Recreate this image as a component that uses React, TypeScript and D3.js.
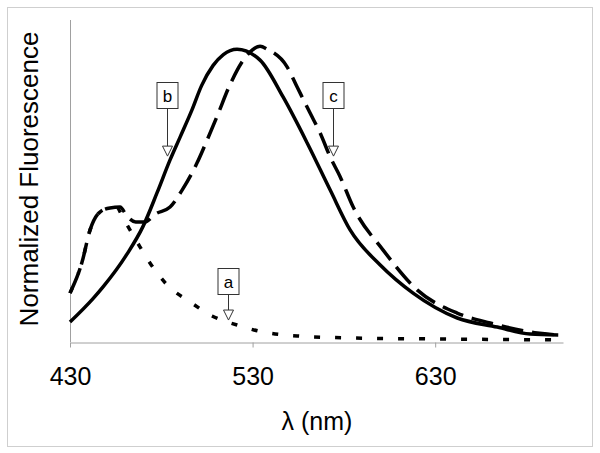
import { useEffect, useRef } from "react";
import * as d3 from "d3";

// wavelength (nm) / normalized intensity
const solidWl = [430, 442.6, 448.1, 461.2, 470, 477.7, 484.8, 490.3, 496.8, 502, 508.4, 514, 521.5, 534.1, 546.7, 559.9, 572.5, 583.4, 599.9, 617.9, 642.1, 664, 682, 697.4];
const solidVal = [0.068, 0.148, 0.188, 0.3, 0.395, 0.51, 0.622, 0.7, 0.793, 0.875, 0.945, 0.982, 1.0, 0.963, 0.837, 0.68, 0.519, 0.383, 0.263, 0.167, 0.082, 0.051, 0.027, 0.024];

const dashWl = [430, 436.6, 441, 446.4, 451.9, 457.4, 461.2, 466, 471, 477, 484.8, 491.4, 499.6, 505.1, 510.5, 517.7, 527, 534.1, 538, 548.9, 554.4, 561.5, 567, 572.5, 578, 585.1, 601.5, 620.1, 642, 660.1, 685.9, 697.4];
const dashVal = [0.167, 0.273, 0.383, 0.444, 0.458, 0.461, 0.43, 0.41, 0.41, 0.438, 0.461, 0.519, 0.612, 0.69, 0.77, 0.88, 0.98, 1.01, 1.0, 0.94, 0.871, 0.782, 0.714, 0.632, 0.564, 0.461, 0.314, 0.178, 0.099, 0.065, 0.031, 0.024];

const dotWl = [430, 436.6, 441, 446.4, 451.9, 455.8, 459, 466.7, 473.8, 483.2, 495.8, 507.8, 521.5, 535.8, 556, 583.4, 638.2, 700];
const dotVal = [0.167, 0.273, 0.383, 0.444, 0.458, 0.458, 0.424, 0.342, 0.27, 0.195, 0.137, 0.089, 0.058, 0.034, 0.02, 0.014, 0.01, 0.007];

const xTicks = [430, 530, 630];

const labels = ["a", "b", "c"];
const labelWl = [516.6, 483.2, 573.8];
const labelTip = [0.075, 0.635, 0.635];
const labelBoxTop = [0.253, 0.889, 0.889];

const App = () => {
  const ref = useRef<SVGSVGElement>(null);

  useEffect(() => {
    const svg = d3.select(ref.current);
    svg.selectAll("*").remove();

    const left = 70, right = 563, top = 20, bottom = 342;
    const x = d3.scaleLinear().domain([430, 700]).range([left, right]);
    const y = d3.scaleLinear().domain([0, 1.1]).range([bottom, top]);
    const font = "Liberation Sans, Arial, sans-serif";

    svg
      .append("rect")
      .attr("x", 7.5)
      .attr("y", 7.5)
      .attr("width", 585)
      .attr("height", 439)
      .attr("fill", "white")
      .attr("stroke", "#cfcfcf");

    // axes
    svg
      .append("line")
      .attr("x1", left + 0.5)
      .attr("x2", left + 0.5)
      .attr("y1", top)
      .attr("y2", bottom)
      .attr("stroke", "#a0a0a0");

    const xAxis = svg
      .append("g")
      .attr("transform", `translate(0,${bottom + 0.5})`)
      .call(d3.axisBottom(x).tickValues(xTicks).tickSize(5).tickSizeOuter(0).tickPadding(20));
    xAxis.select(".domain").attr("stroke", "#a0a0a0");
    xAxis.selectAll(".tick line").attr("stroke", "#a0a0a0");
    xAxis
      .selectAll(".tick text")
      .attr("fill", "black")
      .style("font-family", font)
      .style("font-size", "25px");

    svg
      .append("text")
      .attr("x", 317)
      .attr("y", 430)
      .attr("text-anchor", "middle")
      .style("font-family", font)
      .style("font-size", "25px")
      .text("λ (nm)");

    svg
      .append("text")
      .attr("transform", "translate(38,179) rotate(-90)")
      .attr("text-anchor", "middle")
      .style("font-family", font)
      .style("font-size", "26px")
      .text("Normalized Fluorescence");

    const line = d3
      .line<[number, number]>()
      .x((d) => x(d[0]))
      .y((d) => y(d[1]))
      .curve(d3.curveMonotoneX);

    const series = [
      { wl: dotWl, val: dotVal, dash: "6,15" },
      { wl: dashWl, val: dashVal, dash: "22,9" },
      { wl: solidWl, val: solidVal, dash: null },
    ];

    series.forEach((s) => {
      svg
        .append("path")
        .attr("d", line(s.wl.map((w, i) => [w, s.val[i]] as [number, number])))
        .attr("fill", "none")
        .attr("stroke", "black")
        .attr("stroke-width", 3.5)
        .attr("stroke-dasharray", s.dash);
    });

    // labels with hollow arrows
    labels.forEach((lab, i) => {
      const cx = Math.round(x(labelWl[i])) + 0.5;
      const tipY = y(labelTip[i]);
      const boxTop = Math.round(y(labelBoxTop[i])) + 0.5;
      const g = svg.append("g");
      g.append("rect")
        .attr("x", cx - 10.5)
        .attr("y", boxTop)
        .attr("width", 21)
        .attr("height", 26)
        .attr("fill", "white")
        .attr("stroke", "#333")
        .attr("stroke-width", 1);
      g.append("text")
        .attr("x", cx)
        .attr("y", boxTop + 19)
        .attr("text-anchor", "middle")
        .style("font-family", font)
        .style("font-size", "17px")
        .text(lab);
      g.append("line")
        .attr("x1", cx)
        .attr("x2", cx)
        .attr("y1", boxTop + 26)
        .attr("y2", tipY - 10)
        .attr("stroke", "#333");
      g.append("path")
        .attr("d", `M${cx - 5},${tipY - 10}L${cx + 5},${tipY - 10}L${cx},${tipY}Z`)
        .attr("fill", "white")
        .attr("stroke", "#333");
    });
  }, []);

  return (
    <svg
      ref={ref}
      width={600}
      height={453}
      style={{ position: "absolute", left: 0, top: 0, background: "white" }}
    />
  );
};

export default App;
